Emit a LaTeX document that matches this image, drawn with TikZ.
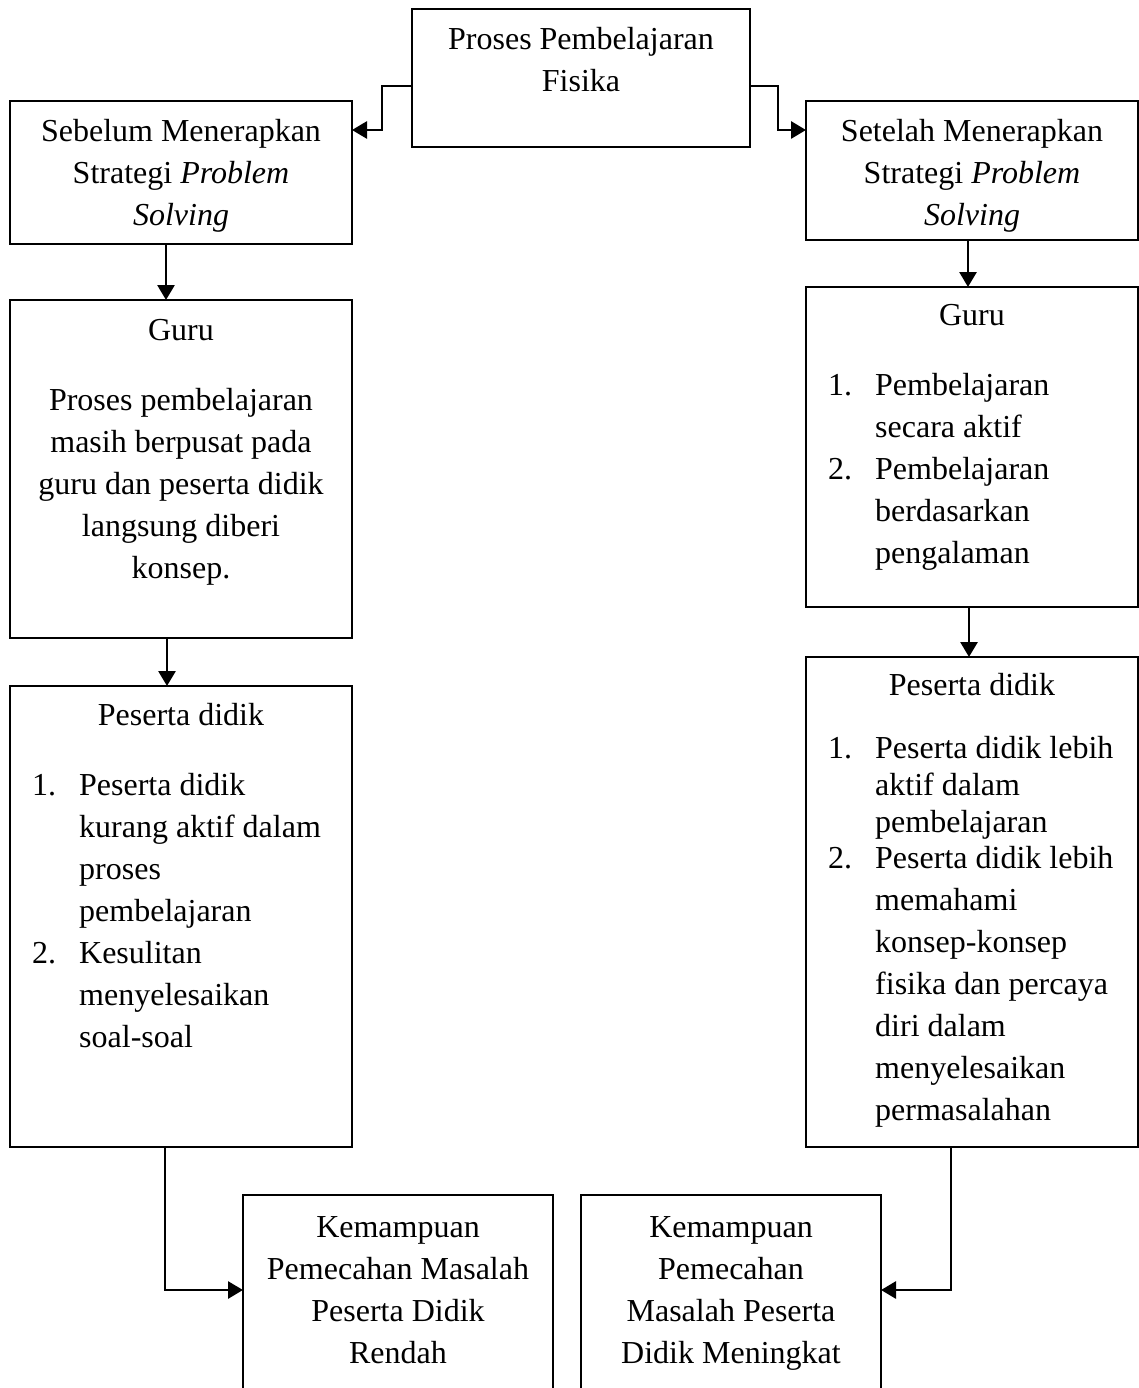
\documentclass[tikz,border=0pt]{standalone}
\usepackage{fontspec}
\setmainfont{Liberation Serif}
\usetikzlibrary{arrows.meta,calc}
\newcommand{\numit}[1]{\makebox[47pt][l]{#1}}
\begin{document}
\begin{tikzpicture}[x=1pt,y=-1pt,
  box/.style={draw, line width=2pt, rectangle, anchor=north west, inner sep=0pt, outer sep=0pt},
  openbox/.style={rectangle, anchor=north west, inner sep=0pt, outer sep=0pt},
  boxline/.style={line width=2pt},
  txt/.style={anchor=base, inner sep=0pt, font=\fontsize{32}{42}\selectfont},
  lst/.style={anchor=base west, inner sep=0pt, font=\fontsize{32}{42}\selectfont},
  conn/.style={line width=2.8pt, -{Triangle[length=15pt,width=17pt]}}]
\path[use as bounding box, fill=white] (0,0) rectangle (1139,1388);

% boxes
\node[box, minimum width=338pt, minimum height=138pt] (T) at (412,9) {};
\node[box, minimum width=342pt, minimum height=143pt] (A) at (10,101) {};
\node[box, minimum width=332pt, minimum height=139pt] (B) at (806,101) {};
\node[box, minimum width=342pt, minimum height=338pt] (GL) at (10,300) {};
\node[box, minimum width=332pt, minimum height=320pt] (GR) at (806,287) {};
\node[box, minimum width=342pt, minimum height=461pt] (PL) at (10,686) {};
\node[box, minimum width=332pt, minimum height=490pt] (PR) at (806,657) {};
\node[openbox, minimum width=310pt, minimum height=200pt] (KL) at (243,1195) {};
\node[openbox, minimum width=300pt, minimum height=200pt] (KR) at (581,1195) {};
\draw[boxline] (KL.south west) |- (KL.north east) -- (KL.south east);
\draw[boxline] (KR.south west) |- (KR.north east) -- (KR.south east);

% texts
\node[txt] (tT) at (581,50) {\begin{tabular}[t]{@{}c@{}}Proses Pembelajaran\\Fisika\end{tabular}};
\node[txt] (tA) at (181,142) {\begin{tabular}[t]{@{}c@{}}Sebelum Menerapkan\\Strategi \textit{Problem}\\\textit{Solving}\end{tabular}};
\node[txt] (tB) at (972,142) {\begin{tabular}[t]{@{}c@{}}Setelah Menerapkan\\Strategi \textit{Problem}\\\textit{Solving}\end{tabular}};

\node[txt] (hGL) at (181,340) {Guru};
\node[txt] (tGL) at (181,410) {\begin{tabular}[t]{@{}c@{}}Proses pembelajaran\\masih berpusat pada\\guru dan peserta didik\\langsung diberi\\konsep.\end{tabular}};

\node[txt] (hGR) at (972,325) {Guru};
\node[lst] (tGR) at (828,395) {\begin{tabular}[t]{@{}l@{}l@{}}\numit{1.}&Pembelajaran\\&secara aktif\\\numit{2.}&Pembelajaran\\&berdasarkan\\&pengalaman\end{tabular}};

\node[txt] (hPL) at (181,725) {Peserta didik};
\node[lst] (tPL) at (32,795) {\begin{tabular}[t]{@{}l@{}l@{}}\numit{1.}&Peserta didik\\&kurang aktif dalam\\&proses\\&pembelajaran\\\numit{2.}&Kesulitan\\&menyelesaikan\\&soal-soal\end{tabular}};

\node[txt] (hPR) at (972,695) {Peserta didik};
\node[lst] (tPR) at (828,758) {\begin{tabular}[t]{@{}l@{}l@{}}\numit{1.}&Peserta didik lebih\\[-5pt]&aktif dalam\\[-5pt]&pembelajaran\\[-6pt]\numit{2.}&Peserta didik lebih\\&memahami\\&konsep-konsep\\&fisika dan percaya\\&diri dalam\\&menyelesaikan\\&permasalahan\end{tabular}};

\node[txt] (tKL) at (398,1237) {\begin{tabular}[t]{@{}c@{}}Kemampuan\\Pemecahan Masalah\\Peserta Didik\\Rendah\end{tabular}};
\node[txt] (tKR) at (731,1237) {\begin{tabular}[t]{@{}c@{}}Kemampuan\\Pemecahan\\Masalah Peserta\\Didik Meningkat\end{tabular}};

% connectors
\draw[conn] ($(T.north west)+(0,77)$) -| ($(A.north east)+(30,29)$) -- ($(A.north east)+(0,29)$);
\draw[conn] ($(T.north east)+(0,77)$) -| ($(B.north west)+(-28,29)$) -- ($(B.north west)+(0,29)$);
\draw[conn] ($(A.south west)+(156,0)$) -- ($(GL.north west)+(156,0)$);
\draw[conn] ($(GL.south west)+(157,0)$) -- ($(PL.north west)+(157,0)$);
\draw[conn] ($(B.south west)+(162,0)$) -- ($(GR.north west)+(162,0)$);
\draw[conn] ($(GR.south west)+(163,0)$) -- ($(PR.north west)+(163,0)$);
\draw[conn] ($(PL.south west)+(155,0)$) |- ($(KL.north west)+(0,95)$);
\draw[conn] ($(PR.south west)+(145,0)$) |- ($(KR.north east)+(0,95)$);
\end{tikzpicture}
\end{document}
